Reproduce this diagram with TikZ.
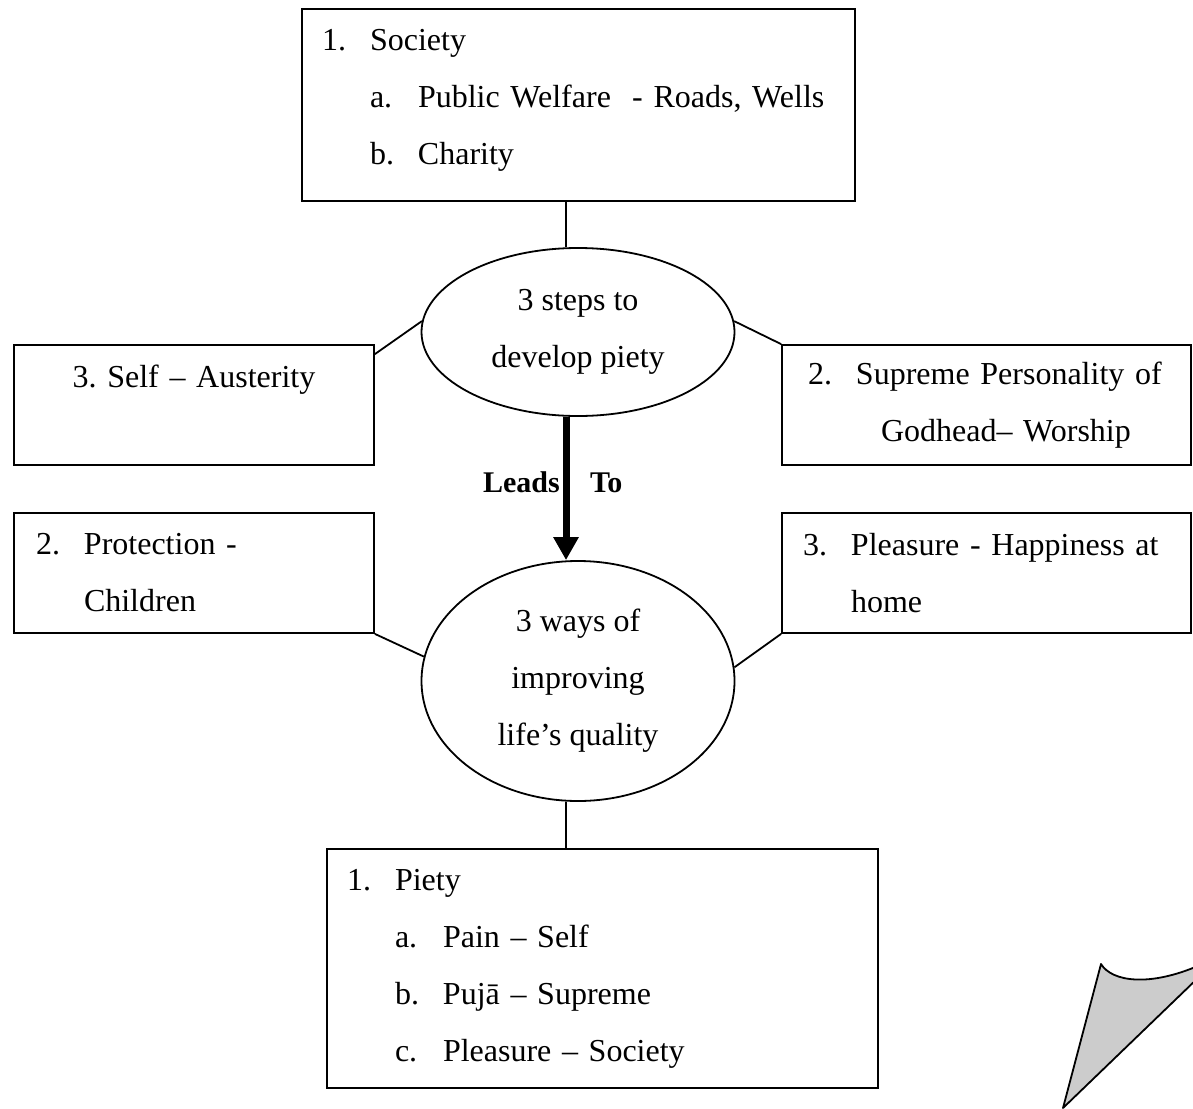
\documentclass[tikz,border=0pt]{standalone}
\usepackage{fontspec}
\setmainfont{Liberation Serif}
\usetikzlibrary{shapes.geometric, arrows.meta, calc}
\tikzset{
    txt/.style={font=\fontsize{32}{57}\selectfont},
    listbox/.style={draw, line width=1.8pt, rectangle, inner sep=0pt, txt,
        align=left},
    oval/.style={draw, line width=1.8pt, ellipse, inner sep=0pt, txt,
        align=center, minimum width=313pt},
    link/.style={line width=1.8pt},
    leadsto/.style={line width=7pt, -{Triangle[length=23pt, width=24pt]}},
}
\newcommand{\numlbl}[1]{\makebox[48pt][l]{#1}}

\begin{document}
\begin{tikzpicture}[x=1pt, y=-1pt]
    \useasboundingbox (0, 0) rectangle (1193, 1108); % Page: 1193 x 1108

    \node[listbox, text width=553pt, minimum height=192pt] (society)
        at (578.5, 105) {\hspace*{20pt}\numlbl{1.}Society\\
        \hspace*{68pt}\numlbl{a.}Public Welfare\ \ - Roads, Wells\\
        \hspace*{68pt}\numlbl{b.}Charity\rule[-17pt]{0pt}{0pt}}; % Lifts text
    \node[oval, minimum height=168pt] (steps) at (578, 332)
        {3 steps to\\ develop piety};
    \node[listbox, text width=360pt, minimum height=120pt, align=center]
        (austerity) at (194, 405) {3.\ Self – Austerity\\ \mbox{}};
    \node[listbox, text width=409pt, minimum height=120pt] (worship)
        at (986.5, 405) {\hspace*{26pt}\numlbl{2.}Supreme Personality of\\
        \hspace*{99pt}Godhead– Worship};
    \node[listbox, text width=360pt, minimum height=120pt] (protection)
        at (194, 573) {\hspace*{22pt}\numlbl{2.}Protection -\\
        \hspace*{70pt}Children};
    \node[listbox, text width=409pt, minimum height=120pt] (pleasure)
        at (986.5, 573) {\hspace*{21pt}\numlbl{3.}Pleasure - Happiness at\\
        \hspace*{69pt}home};
    \node[oval, minimum height=240pt] (ways) at (578, 681)
        {3 ways of\\ improving\\ life’s quality};
    \node[listbox, text width=551pt, minimum height=239pt] (piety)
        at (602.5, 968.5) {\hspace*{20pt}\numlbl{1.}Piety\\
        \hspace*{68pt}\numlbl{a.}Pain – Self\\
        \hspace*{68pt}\numlbl{b.}Pujā – Supreme\\
        \hspace*{68pt}\numlbl{c.}Pleasure – Society};

    \coordinate (spine) at (566, 0); % Vertical connectors run at x = 566
    \coordinate (austerity-in) at ($(austerity.north east)+(0, 10)$);

    \draw[link] (society.south -| spine) -- (steps.north -| spine);
    \draw[leadsto] (steps.south -| spine) -- (ways.north -| spine);
    \draw[link] (ways.south -| spine) -- (piety.north -| spine);

    \foreach \from/\to in {austerity-in/steps.176, steps.4/worship.north west,
        protection.south east/ways.171, ways.5/pleasure.south west}
        \draw[link] (\from) -- (\to); % Side boxes

    \node[txt, font=\fontsize{30}{57}\selectfont\bfseries, inner sep=0pt,
        anchor=base east] (leads) at (560, 492) {Leads};
    \node[txt, font=\fontsize{30}{57}\selectfont\bfseries, inner sep=0pt,
        anchor=base west] (to) at (590, 492) {To};

    \begin{scope}
        \clip (0, 0) rectangle (1193, 1108);
        \filldraw[fill=gray!40, line width=1.8pt, line join=round]
            (1063, 1108) -- (1101, 964)
            .. controls (1112, 982) and (1150, 987) .. (1200, 965)
            -- (1200, 976) -- cycle; % Curled page corner
    \end{scope}
\end{tikzpicture}
\end{document}
